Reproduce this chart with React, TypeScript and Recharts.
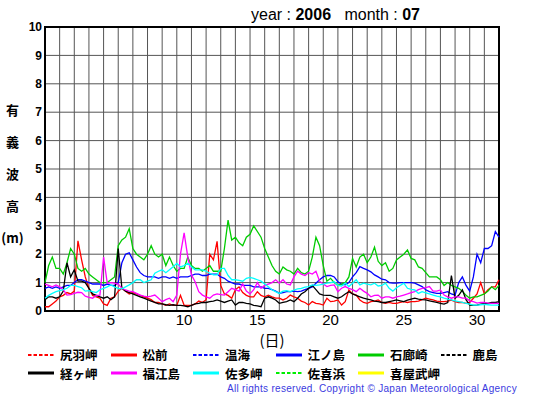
import { CartesianGrid, Line, LineChart, ReferenceArea, XAxis, YAxis } from "recharts";

// significant wave height, July 2006, one reading every 6 hours (t = day offset from 1st 00:00)
const STEPS_PER_DAY = 4;
const GRID_DAYS = Array.from({ length: 32 }, (_, i) => i);
const DAY_LABELS = [5, 10, 15, 20, 25, 30];
const Y_TICKS = [0, 1, 2, 3, 4, 5, 6, 7, 8, 9, 10];

const MATSUMAE = [
  0.15, 0.15, 0.25, 0.35, 0.5, 0.55, 0.65, 0.6, 0.7, 2.47, 1.8, 1.2, 0.8, 0.55, 0.5, 0.45,
  0.25, 0.2, 0.45, 0.5, 0.7, 0.8, 0.7, 0.6, 0.65, 0.6, 0.55, 0.5, 0.45, 0.4, 0.3, 0.3,
  0.25, 0.2, 0.25, 0.2, 0.2, 0.55, 0.2, 0.2, 0.2, 0.25, 0.35, 0.3, 0.4, 2.0, 1.8, 2.45,
  0.9, 0.6, 0.55, 0.45, 0.75, 0.85, 0.65, 0.55, 0.5, 0.5, 0.68, 0.55, 0.5, 0.56, 0.5, 0.45,
  0.45, 0.39, 0.45, 0.56, 0.5, 0.45, 0.35, 0.3, 0.21, 0.33, 0.27, 0.25, 0.21, 0.45, 0.33, 0.35,
  0.39, 0.21, 0.33, 0.74, 0.6, 0.56, 0.39, 0.3, 0.27, 0.33, 0.35, 0.39, 0.3, 0.27, 0.3, 0.27,
  0.27, 0.3, 0.33, 0.3, 0.33, 0.33, 0.35, 0.4, 0.45, 0.42, 0.39, 0.35, 0.33, 0.33, 0.35, 0.38,
  0.33, 0.3, 0.3, 0.27, 0.3, 0.45, 0.6, 1.0, 0.6, 0.75, 0.85, 0.85, 1.1,
];
const ENOSHIMA = [
  0.8, 0.85, 0.8, 0.85, 0.8, 0.85, 0.9, 0.9, 1.0, 1.1, 1.1, 1.05, 1.0, 0.95, 0.95, 0.95,
  0.9, 0.95, 0.9, 0.9, 1.0, 1.7, 2.0, 2.05, 1.8, 1.55, 1.35, 1.25, 1.2, 1.2, 1.2, 1.15,
  1.2, 1.2, 1.15, 1.2, 1.15, 1.2, 1.2, 1.2, 1.25, 1.3, 1.3, 1.25, 1.25, 1.3, 1.3, 1.3,
  1.2, 1.15, 1.05, 1.0, 0.95, 0.95, 0.9, 0.9, 0.9, 0.85, 0.85, 0.85, 0.8, 0.8, 0.75, 0.7,
  0.62, 0.65, 0.68, 0.68, 0.7, 0.68, 0.7, 0.75, 0.8, 0.85, 0.98, 1.1, 1.2, 1.25, 1.25, 1.2,
  1.03, 0.95, 0.92, 1.0, 1.2, 1.35, 1.56, 1.5, 1.45, 1.38, 1.27, 1.2, 1.12, 1.1, 1.0, 0.98,
  0.98, 1.0, 1.0, 1.0, 1.0, 0.98, 0.92, 0.86, 0.75, 0.68, 0.65, 0.62, 0.62, 0.65, 0.68, 0.6,
  0.56, 1.0, 1.2, 0.9, 0.7, 1.2, 2.0, 1.7, 2.2, 2.2, 2.3, 2.8, 2.6,
];
const IROZAKI = [
  1.0, 1.6, 1.9, 1.5, 1.5, 1.3, 1.7, 2.2, 2.0, 1.5, 1.4, 1.5, 1.3, 1.2, 1.1, 1.0,
  1.0, 1.0, 1.1, 1.2, 2.3, 2.5, 2.6, 2.9, 2.2, 2.0, 1.9, 1.8, 2.0, 2.3, 2.0, 1.9,
  2.0, 1.6, 1.9, 1.6, 1.4, 1.5, 1.5, 1.9, 1.6, 1.5, 1.5, 1.4, 1.5, 1.6, 1.4, 1.4,
  1.4, 2.2, 3.2, 2.5, 2.6, 2.4, 2.3, 2.6, 2.7, 3.0, 2.8, 2.6, 2.2, 1.9, 1.6, 1.4,
  1.3, 1.55, 1.45, 1.4, 1.3, 1.5, 1.35, 1.3, 1.4, 1.9, 2.6, 2.3, 1.6, 1.05, 1.15, 1.0,
  0.9, 0.95, 1.0, 1.2, 1.85, 1.55, 1.9, 2.0, 1.7, 1.9, 2.25, 1.75, 1.6, 1.7, 1.4, 1.5,
  1.8, 1.9, 2.0, 2.15, 1.85, 1.8, 1.55, 1.5, 1.35, 1.2, 1.2, 1.2, 1.1, 0.9, 1.0, 0.9,
  0.85, 0.8, 0.7, 0.55, 0.45, 0.5, 0.5, 0.55, 0.6, 0.7, 0.85, 0.75, 0.9,
];
const KYOGAMISAKI = [
  0.4, 0.5, 0.5, 0.45, 0.5, 0.7, 1.7, 1.2, 1.45, 1.05, 1.05, 1.0, 0.8, 0.6, 0.55, 0.5,
  0.45, 0.5, 0.4, 0.5, 2.2, 0.8, 0.7, 0.65, 0.6, 0.55, 0.5, 0.45, 0.4, 0.35, 0.3, 0.25,
  0.25, 0.22, 0.2, 0.22, 0.2, 0.2, 0.18, 0.15, 0.2, 0.25, 0.27, 0.3, 0.3, 0.33, 0.35, 0.39,
  0.35, 0.3, 0.35, 0.39, 0.21, 0.3, 0.3, 0.27, 0.25, 0.2, 0.18, 0.15, 0.45, 0.5, 0.45, 0.39,
  0.27, 0.3, 0.33, 0.39, 0.33, 0.45, 0.6, 0.68, 0.8, 0.9, 0.75, 0.6, 0.56, 0.55, 0.55, 0.5,
  0.45, 0.5, 0.6, 0.68, 0.6, 0.55, 0.5, 0.45, 0.42, 0.39, 0.35, 0.33, 0.3, 0.3, 0.33, 0.36,
  0.39, 0.36, 0.33, 0.38, 0.42, 0.45, 0.42, 0.4, 0.39, 0.36, 0.33, 0.3, 0.27, 0.24, 0.3, 1.25,
  0.45, 0.55, 0.74, 0.4, 0.21, 0.2, 0.21, 0.24, 0.27, 0.27, 0.3, 0.3, 0.33,
];
const FUKUEJIMA = [
  0.95, 0.9, 0.85, 0.92, 0.85, 0.75, 0.56, 0.58, 0.62, 0.66, 0.65, 0.52, 0.48, 0.45, 0.55, 0.56,
  1.9, 0.98, 1.0, 0.98, 0.95, 0.8, 0.74, 0.7, 0.68, 0.62, 0.56, 0.52, 0.5, 0.52, 0.56, 0.45,
  0.33, 0.4, 0.45, 0.33, 0.56, 2.0, 2.75, 1.9, 1.27, 1.03, 0.68, 0.56, 0.5, 0.45, 0.56, 0.6,
  0.58, 0.56, 0.68, 0.8, 0.75, 0.7, 0.95, 0.7, 0.6, 0.75, 1.0, 0.8, 0.9, 0.95, 1.0, 1.1,
  0.98, 1.1, 0.95, 0.92, 1.2, 1.4, 1.3, 1.25, 1.35, 1.3, 1.4, 1.05, 0.95, 0.86, 0.9, 0.92,
  0.68, 0.8, 0.86, 0.8, 0.75, 0.68, 0.8, 0.7, 0.62, 0.5, 0.55, 0.56, 0.45, 0.5, 0.5, 0.45,
  0.5, 0.52, 0.56, 0.6, 0.65, 0.68, 0.75, 0.8, 0.82, 0.86, 0.7, 0.7, 0.74, 0.56, 0.5, 0.45,
  0.5, 0.5, 0.45, 0.45, 0.36, 0.33, 0.28, 0.3, 0.3, 0.28, 0.27, 0.27, 0.27,
];
const SATAMISAKI = [
  0.45, 0.55, 0.62, 0.68, 0.72, 0.75, 0.8, 0.9, 0.9, 0.86, 0.82, 0.7, 0.72, 0.68, 0.65, 0.75,
  0.8, 0.85, 0.92, 0.85, 0.8, 0.78, 0.85, 0.92, 1.0, 1.1, 1.1, 1.0, 1.05, 1.1, 1.33, 1.4,
  1.45, 1.35, 1.45, 1.56, 1.68, 1.55, 1.6, 1.68, 1.56, 1.45, 1.45, 1.45, 1.4, 1.33, 1.27, 1.27,
  1.5, 1.5, 1.25, 1.1, 1.1, 1.08, 1.05, 1.15, 1.18, 1.15, 1.1, 1.05, 0.95, 0.85, 0.75, 0.68,
  0.62, 0.7, 0.72, 0.68, 0.74, 0.78, 0.8, 0.84, 0.86, 0.92, 0.9, 0.92, 0.95, 0.98, 1.0, 1.03,
  0.9, 0.88, 0.98, 0.86, 0.98, 1.1, 0.92, 0.98, 0.95, 0.92, 0.98, 0.88, 0.9, 0.98, 0.8, 0.7,
  0.82, 0.9, 0.98, 0.8, 0.76, 0.74, 0.62, 0.68, 0.64, 0.6, 0.56, 0.52, 0.5, 0.45, 0.42, 0.39,
  0.36, 0.33, 0.3, 0.27, 0.24, 0.21, 0.21, 0.22, 0.23, 0.22, 0.21, 0.21, 0.21,
];

type Series = { key: string; name: string; color: string; dashed: boolean; values?: number[] };

// legend order; stations without values this month are drawn only in the legend
const SERIES: Series[] = [
  { key: "shiriha", name: "尻羽岬", color: "#ff0000", dashed: true },
  { key: "matsumae", name: "松前", color: "#ff0000", dashed: false, values: MATSUMAE },
  { key: "atsumi", name: "温海", color: "#0000ff", dashed: true },
  { key: "enoshima", name: "江ノ島", color: "#0000ff", dashed: false, values: ENOSHIMA },
  { key: "irozaki", name: "石廊崎", color: "#00cc00", dashed: false, values: IROZAKI },
  { key: "kashima", name: "鹿島", color: "#000000", dashed: true },
  { key: "kyogamisaki", name: "経ヶ岬", color: "#000000", dashed: false, values: KYOGAMISAKI },
  { key: "fukuejima", name: "福江島", color: "#ff00ff", dashed: false, values: FUKUEJIMA },
  { key: "satamisaki", name: "佐多岬", color: "#00ffff", dashed: false, values: SATAMISAKI },
  { key: "kikihama", name: "佐喜浜", color: "#00ee00", dashed: true },
  { key: "kyan", name: "喜屋武岬", color: "#ffff00", dashed: false },
];

const Y_LABEL = ["有", "義", "波", "高", "(m)"];

const data = MATSUMAE.map((_, i) => {
  const row: Record<string, number> = { t: i / STEPS_PER_DAY };
  for (const s of SERIES) if (s.values) row[s.key] = s.values[i];
  return row;
});

const SANS = "'Liberation Sans', Arial, sans-serif";
const JP = "'Noto Sans CJK JP', sans-serif";

const NoTick = () => <g />;

function LegendItem({ s }: { s: Series }) {
  return (
    <div style={{ display: "flex", alignItems: "center", width: 82.5, height: 15, flex: "none", whiteSpace: "nowrap" }}>
      <svg width={26} height={6} style={{ flex: "none" }}>
        <line
          x1={0}
          x2={26}
          y1={3}
          y2={3}
          stroke={s.color}
          strokeWidth={s.dashed ? 2 : 3}
          strokeDasharray={s.dashed ? "3.5 2" : undefined}
        />
      </svg>
      <span style={{ marginLeft: 6, fontFamily: JP, fontWeight: 700, fontSize: 12.5, lineHeight: "15px" }}>
        {s.name}
      </span>
    </div>
  );
}

export default function App() {
  return (
    <div style={{ position: "absolute", left: 0, top: 0, width: 555, height: 395, background: "#fff" }}>
      <div style={{ position: "absolute", left: 251, top: 6, fontFamily: SANS, fontSize: 16, whiteSpace: "pre" }}>
        year : <b>2006</b>{"   "}month : <b>07</b>
      </div>

      {Y_LABEL.map((c, i) => (
        <div
          key={c}
          style={{
            position: "absolute",
            left: 0,
            width: 25,
            top: 101 + i * 32,
            textAlign: "center",
            fontFamily: JP,
            fontWeight: 700,
            fontSize: 13,
            lineHeight: "18px",
          }}
        >
          {c}
        </div>
      ))}

      <LineChart width={555} height={395} data={data} margin={{ top: 27, right: 56, bottom: 43, left: 0 }}>
        <CartesianGrid stroke="#555" strokeWidth={1} />
        <XAxis
          type="number"
          dataKey="t"
          domain={[0, 31]}
          ticks={GRID_DAYS}
          interval={0}
          height={1}
          tick={NoTick}
          axisLine={false}
          tickLine={false}
        />
        <XAxis
          xAxisId="days"
          type="number"
          dataKey="t"
          domain={[0, 31]}
          ticks={DAY_LABELS.map((d) => d - 0.5)}
          tickFormatter={(v) => String(v + 0.5)}
          interval={0}
          height={40}
          axisLine={false}
          tickLine={false}
          tickSize={0}
          tickMargin={2}
          tick={{ fontSize: 15, fill: "#000", fontFamily: SANS }}
          label={{ value: "(日)", position: "insideBottom", offset: 6, fontSize: 15, fill: "#000", fontFamily: JP }}
        />
        <YAxis
          domain={[0, 10]}
          ticks={Y_TICKS}
          width={45}
          axisLine={false}
          tickLine={false}
          tickSize={0}
          tickMargin={3}
          interval={0}
          tick={{ fontSize: 12, fontWeight: 700, fill: "#000", fontFamily: SANS }}
        />
        {SERIES.filter((s) => s.values).map((s) => (
          <Line
            key={s.key}
            dataKey={s.key}
            name={s.name}
            stroke={s.color}
            strokeWidth={1.3}
            dot={false}
            type="linear"
            isAnimationActive={false}
          />
        ))}
        <ReferenceArea x1={0} x2={31} y1={0} y2={10} fill="none" stroke="#000" strokeWidth={2} />
      </LineChart>

      <div style={{ position: "absolute", left: 28, top: 347, display: "flex", width: 520 }}>
        {SERIES.slice(0, 6).map((s) => (
          <LegendItem key={s.key} s={s} />
        ))}
      </div>
      <div style={{ position: "absolute", left: 28, top: 365.5, display: "flex", width: 520 }}>
        {SERIES.slice(6).map((s) => (
          <LegendItem key={s.key} s={s} />
        ))}
      </div>

      <div
        style={{
          position: "absolute",
          left: 227,
          top: 382.5,
          fontFamily: SANS,
          fontSize: 10,
          lineHeight: "11.5px",
          letterSpacing: 0.3,
          color: "#3a3ae0",
          whiteSpace: "nowrap",
        }}
      >
        All rights reserved. Copyright © Japan Meteorological Agency
      </div>
    </div>
  );
}
